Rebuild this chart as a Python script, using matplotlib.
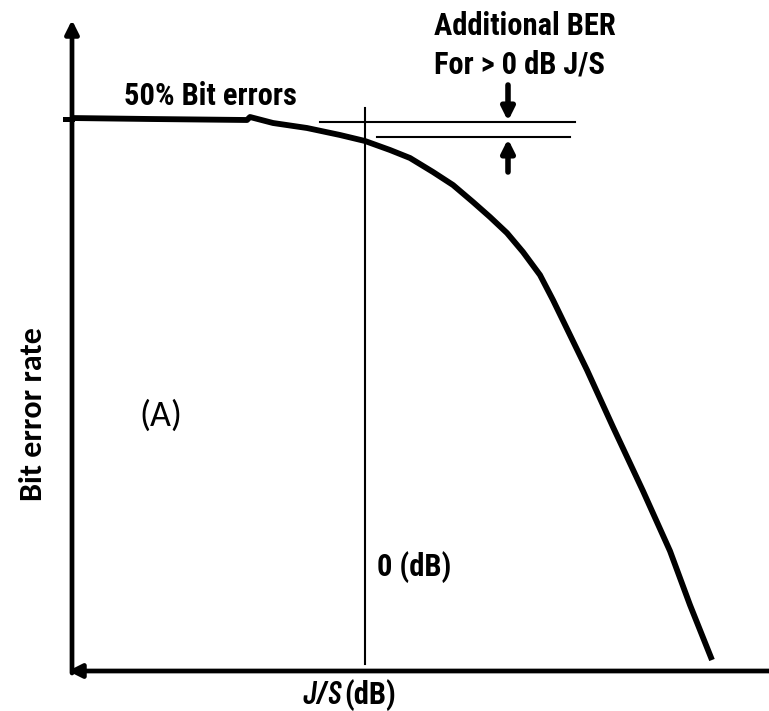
import matplotlib
matplotlib.use('Agg')
import matplotlib.pyplot as plt

# BER curve (drawing units, y grows downward)
js = [70, 150, 247, 250, 273, 307, 340, 365, 390, 410, 433, 453, 473, 490,
      507, 523, 540, 553, 587, 613, 643, 670, 690, 712]
ber = [118, 119, 120, 117, 123, 128, 135, 141, 150, 158, 172, 185, 202, 217,
       233, 252, 275, 300, 370, 427, 491, 551, 605, 660]

zero_db = 365          # position of the 0 dB marker
ber_50 = 119           # 50% bit error level
ber_ref = 122          # upper reference level
ber_at_0db = 137       # level of curve at 0 dB

cond = ['Roboto Condensed', 'DejaVu Sans']
cal = ['Carlito', 'DejaVu Sans']

fig = plt.figure(figsize=(7.69, 7.11), dpi=100)
ax = fig.add_axes([0, 0, 1, 1])
ax.set_xlim(0, 769)
ax.set_ylim(711, 0)
ax.axis('off')

# axes with arrows
ax.annotate('', xy=(72, 20), xytext=(72, 673),
            arrowprops=dict(arrowstyle='-|>', lw=3.4, color='black',
                            mutation_scale=20, shrinkA=0, shrinkB=0))
ax.annotate('', xy=(68, 671), xytext=(769, 671),
            arrowprops=dict(arrowstyle='-|>', lw=3.4, color='black',
                            mutation_scale=20, shrinkA=0, shrinkB=0))
ax.plot([65, 72], [ber_50, ber_50], color='black', lw=3.6)

# the curve
ax.plot(js, ber, color='black', lw=4.2, solid_capstyle='butt',
        solid_joinstyle='round')

# 0 dB marker and the two reference levels
ax.plot([zero_db, zero_db], [108, 664], color='black', lw=1.5)
ax.plot([320, 575], [ber_ref, ber_ref], color='black', lw=1.5)
ax.plot([377, 570], [ber_at_0db, ber_at_0db], color='black', lw=1.5)

ax.annotate('', xy=(508, ber_ref - 1), xytext=(508, 85),
            arrowprops=dict(arrowstyle='-|>', lw=4, color='black',
                            mutation_scale=19, shrinkA=0, shrinkB=0))
ax.annotate('', xy=(508, ber_at_0db + 2), xytext=(508, 172),
            arrowprops=dict(arrowstyle='-|>', lw=4, color='black',
                            mutation_scale=19, shrinkA=0, shrinkB=0))

# text
ax.text(434, 26, 'Additional BER', family=cond, fontsize=22, va='center',
        ha='left', fontweight='semibold')
ax.text(434, 64, 'For > 0 dB J/S', family=cond, fontsize=22, va='center',
        ha='left', fontweight='semibold')
ax.text(124, 96, '50% Bit errors', family=cond, fontsize=22, va='center',
        ha='left', fontweight='semibold')
ax.text(377, 567, '0 (dB)', family=cond, fontsize=22, va='center',
        ha='left', fontweight='semibold')
ax.text(302, 695, 'J/S', family=['Barlow Condensed', 'Roboto Condensed'],
        fontsize=23, va='center', ha='left', fontweight='semibold',
        fontstyle='italic')
ax.text(344, 695, '(dB)', family=cond, fontsize=22, va='center',
        ha='left', fontweight='semibold')
ax.text(161, 416, '(A)', family=cal, fontsize=26, va='center',
        ha='center')
ax.text(33, 414, 'Bit error rate', family=cal, fontsize=23,
        va='center', ha='center', rotation=90, fontweight='bold')

fig.savefig('out.png', dpi=100)
